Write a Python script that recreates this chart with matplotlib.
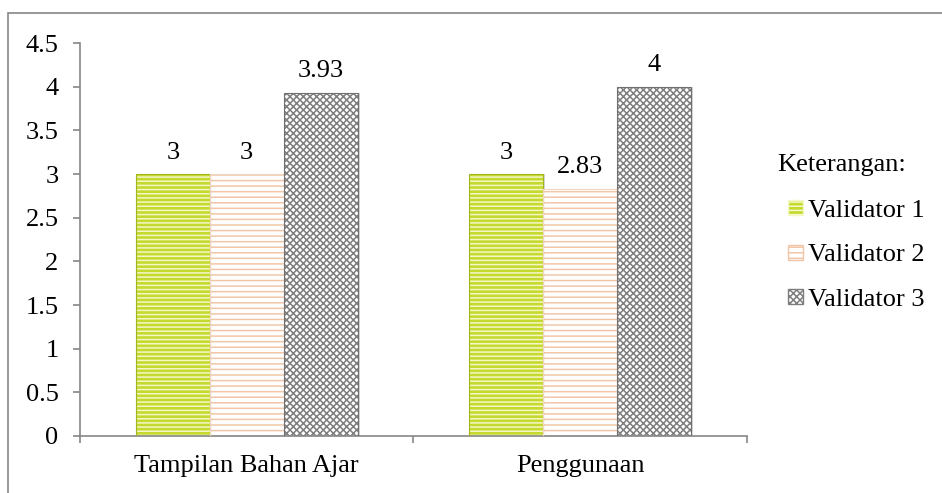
import matplotlib
matplotlib.use("Agg")
import matplotlib.pyplot as plt
import numpy as np
from matplotlib.patches import Rectangle, Patch
from matplotlib.ticker import FormatStrFormatter, FixedLocator

categories = ["Tampilan Bahan Ajar", "Penggunaan"]
series_names = ["Validator 1", "Validator 2", "Validator 3"]
validator1 = [3, 3]
validator2 = [3, 2.83]
validator3 = [3.93, 4]
labels1 = ["3", "3"]
labels2 = ["3", "2.83"]
labels3 = ["3.93", "4"]

plt.rcParams['font.family'] = ['Liberation Serif', 'DejaVu Serif']
plt.rcParams['hatch.linewidth'] = 1.1

FS = 19
W, H = 942, 493
fig = plt.figure(figsize=(W/100, H/100), dpi=100)
ax = fig.add_axes([80/W, (H-436)/H, (747-80)/W, (436-43)/H])

# outer frame (top and left visible)
fig.patches.append(Rectangle((8/W, -0.1), 1.2, (H-13)/H + 0.1, transform=fig.transFigure,
                             fill=False, edgecolor='#868686', linewidth=1.2, zorder=0))

x = np.arange(len(categories))
bw = 0.2216
styles = [
    dict(face='#c5d92e', hatch='----', hcolor='#f4f8c6', edge='#a3b51c'),
    dict(face='#ffffff', hatch='---', hcolor='#f1c6a8', edge='#f0d5c2'),
    dict(face='#ffffff', hatch='xxxxx', hcolor='#7e7e7e', edge='#707070'),
]
series = [validator1, validator2, validator3]
labels = [labels1, labels2, labels3]
handles = []
for i, (vals, st, lab) in enumerate(zip(series, styles, labels)):
    pos = x + (i - 1) * bw
    ax.bar(pos + 0.006, vals, bw, color='#d6d6d6', linewidth=0, zorder=1)
    ax.bar(pos, vals, bw, color=st['face'], hatch=st['hatch'], edgecolor=st['hcolor'],
           linewidth=0, zorder=2)
    ax.bar(pos, vals, bw, fill=False, edgecolor=st['edge'], linewidth=0.8, zorder=3)
    for p, v, t in zip(pos, vals, lab):
        ax.annotate(t, (p, v), xytext=(0, 7.5), textcoords='offset points',
                    ha='center', va='bottom', fontsize=FS)
    handles.append(Patch(facecolor=st['face'], hatch=st['hatch'], edgecolor=st['hcolor']))

ax.set_xlim(-0.5, 1.5)
ax.set_ylim(0, 4.5)
ax.set_yticks(np.arange(0, 4.51, 0.5))
ax.yaxis.set_major_formatter(FormatStrFormatter('%g'))
ax.set_xticks(x)
ax.set_xticklabels(categories)
ax.xaxis.set_minor_locator(FixedLocator([-0.5, 0.5, 1.5]))
ax.tick_params(axis='x', which='major', length=0, pad=14, labelsize=FS)
ax.tick_params(axis='x', which='minor', length=5, width=1.2, color='#868686', direction='out')
ax.tick_params(axis='y', length=5, width=1.2, color='#868686', direction='out', pad=10.5, labelsize=FS)
for s in ['top', 'right']:
    ax.spines[s].set_visible(False)
for s in ['left', 'bottom']:
    ax.spines[s].set_color('#868686')
    ax.spines[s].set_linewidth(1.2)

fig.text(777/W, 1 - 165/H, "Keterangan:", fontsize=FS, va='center', ha='left')
leg = fig.legend(handles, series_names, loc='upper left', bbox_to_anchor=(788/W, 1 - 200/H),
                 frameon=False, fontsize=FS, handlelength=0.55, handleheight=0.5,
                 handletextpad=0.2, labelspacing=0.85, borderaxespad=0, borderpad=0)

fig.savefig("out.png", dpi=100)
